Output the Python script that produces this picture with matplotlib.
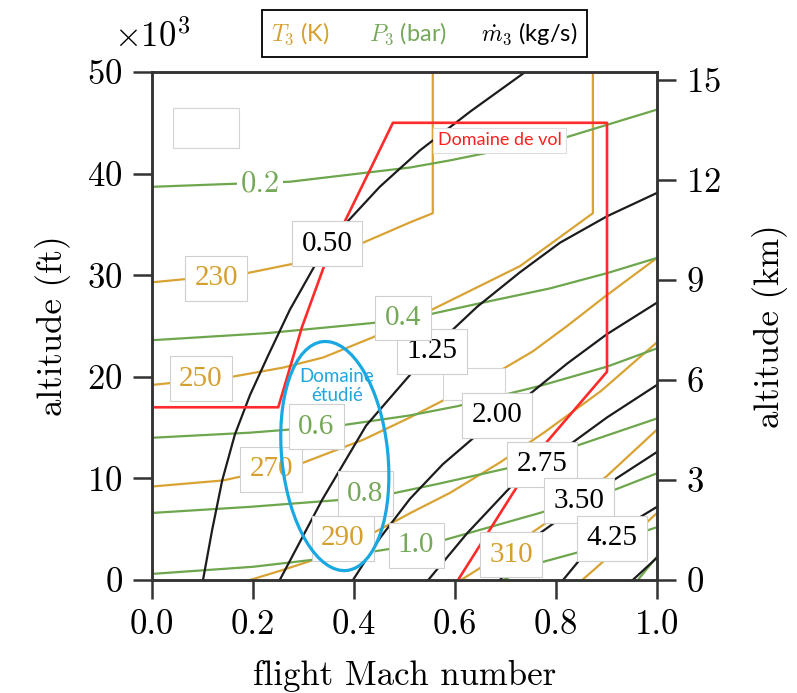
import matplotlib
matplotlib.use('Agg')
import matplotlib.pyplot as plt
from matplotlib.patches import Ellipse, Rectangle

plt.rcParams['font.family'] = 'serif'
plt.rcParams['font.serif'] = ['cmr10']
plt.rcParams['mathtext.fontset'] = 'cm'
plt.rcParams['axes.formatter.use_mathtext'] = True

ORANGE = '#d9a334'
GREEN = '#6da64c'
BLACK = '#1c1c1c'
RED = '#ff2b2b'
BLUE = '#1aa8e2'

# ---- mass flow m3 (kg/s) contour lines (Mach, kft)
mdot_levels = ['0.50', '1.25', '2.00', '2.75', '3.50', '4.25', '5.00']
mdot_mach = [
    [0.101, 0.119, 0.139, 0.164, 0.194, 0.230, 0.273, 0.323, 0.382, 0.451, 0.531, 0.630, 0.739],
    [0.253, 0.337, 0.424, 0.525, 0.584, 0.644, 0.729, 0.808, 0.901, 1.0],
    [0.398, 0.451, 0.511, 0.576, 0.644, 0.743, 0.822, 0.901, 1.0],
    [0.547, 0.624, 0.709, 0.832, 0.901, 1.0],
    [0.689, 0.768, 0.907, 1.0],
    [0.814, 0.867, 1.0],
    [0.952, 1.0],
]
mdot_alt = [
    [0, 4.9, 9.8, 14.3, 18.2, 22.1, 26.6, 31.0, 35.0, 38.7, 42.3, 46.1, 50.0],
    [0, 7.9, 15.2, 21.0, 24.1, 26.9, 30.3, 33.2, 35.8, 38.1],
    [0, 4.1, 8.0, 11.4, 14.3, 18.1, 21.3, 24.2, 27.3],
    [0, 4.6, 9.1, 13.5, 16.0, 19.2],
    [0, 4.6, 9.6, 12.6],
    [0, 3.2, 7.2],
    [0, 2.2],
]

# ---- pressure P3 (bar)
p3_levels = ['0.2', '0.4', '0.6', '0.8', '1.0', '1.2', '1.4']
p3_mach = [
    [0, 0.273, 0.511, 0.590, 0.709, 0.822, 0.901, 1.0],
    [0, 0.228, 0.438, 0.545, 0.655, 0.788, 0.901, 1.0],
    [0, 0.194, 0.372, 0.511, 0.604, 0.703, 0.768, 0.901, 1.0],
    [0, 0.194, 0.378, 0.465, 0.570, 0.713, 0.834, 1.0],
    [0, 0.2, 0.372, 0.438, 0.576, 0.768, 0.907, 1.0],
    [0.695, 0.768, 0.842, 0.982, 1.0],
    [0.962, 1.0],
]
p3_alt = [
    [38.7, 39.2, 40.6, 41.3, 42.5, 43.6, 44.8, 46.3],
    [23.6, 24.3, 25.3, 26.1, 27.3, 28.7, 30.2, 31.7],
    [14.0, 14.5, 15.2, 16.2, 17.1, 18.3, 19.1, 21.0, 22.8],
    [6.6, 7.2, 7.9, 8.4, 9.5, 11.1, 13.1, 15.9],
    [0.6, 1.3, 2.3, 2.8, 3.9, 6.6, 8.7, 10.5],
    [0, 1.7, 2.7, 4.9, 5.2],
    [0, 2.3],
]

# ---- temperature T3 (K)
t3_levels = ['230', '250', '270', '290', '310', '330']
t3_mach = [
    [0, 0.188, 0.287, 0.418, 0.511, 0.556, 0.556],
    [0, 0.158, 0.259, 0.339, 0.438, 0.554, 0.729, 0.873, 0.873],
    [0, 0.141, 0.297, 0.418, 0.511, 0.570, 0.689, 0.754, 0.822, 0.897, 1.0],
    [0.194, 0.26, 0.327, 0.433, 0.512, 0.591, 0.69, 0.776, 0.889, 1.0],
    [0.612, 0.663, 0.713, 0.80, 0.90, 1.0],
    [0.852, 0.9, 0.95, 1.0],
]
t3_alt = [
    [29.3, 30.2, 31.2, 33.2, 35.2, 36.1, 50],
    [19.2, 20.0, 20.9, 21.9, 23.9, 26.6, 30.9, 36.1, 50],
    [9.2, 9.8, 11.5, 13.8, 16.0, 17.5, 20.6, 22.5, 25.0, 27.9, 31.7],
    [0, 1.0, 2.1, 4.5, 6.6, 8.6, 11.6, 14.5, 18.6, 23.4],
    [0, 1.6, 3.3, 6.3, 10.2, 14.8],
    [0, 2.1, 4.3, 6.6],
]

# ---- flight envelope
vol_mach = [0, 0.250, 0.297, 0.343, 0.376, 0.432, 0.477, 0.901, 0.901, 0.782, 0.723, 0.606]
vol_alt = [17.0, 17.0, 24.9, 31.2, 34.7, 40.4, 45.0, 45.0, 20.5, 13.6, 9.2, 0]

# ---- inline labels (text, Mach, kft)
mdot_lab = [('0.50', 0.347, 33.1), ('1.25', 0.554, 22.5), ('2.00', 0.683, 16.2),
            ('2.75', 0.772, 11.4), ('3.50', 0.846, 7.8), ('4.25', 0.911, 4.1)]
t3_lab = [('230', 0.127, 29.7), ('250', 0.097, 19.8), ('270', 0.236, 10.9),
          ('290', 0.378, 4.1), ('310', 0.711, 2.5)]
p3_lab = [('0.4', 0.497, 25.8), ('0.6', 0.325, 15.1), ('0.8', 0.422, 8.5),
          ('1.0', 0.523, 3.4)]
# blank patches left over from the original labels (Mach0, Mach1, kft0, kft1)
blank_boxes = [(0.042, 0.173, 42.5, 46.5), (0.576, 0.699, 17.7, 20.9)]

fig = plt.figure(figsize=(7.97, 6.93), dpi=100)
ax = fig.add_axes([152/797, 113/693, 505/797, 508/693])

for m, a in zip(t3_mach, t3_alt):
    ax.plot(m, a, color=ORANGE, lw=1.6, zorder=2)
for m, a in zip(p3_mach, p3_alt):
    ax.plot(m, a, color=GREEN, lw=1.6, zorder=2)
for m, a in zip(mdot_mach, mdot_alt):
    ax.plot(m, a, color=BLACK, lw=1.6, zorder=3)

ax.plot(vol_mach, vol_alt, color=RED, lw=1.9, zorder=4)

box_kw = dict(boxstyle='square,pad=0.32', fc='white', ec='#cfcfcf', lw=0.8)
lab_font = 'Liberation Serif'
for txt, m, a in mdot_lab:
    ax.text(m, a, txt, color='black', fontsize=21, family=lab_font,
            ha='center', va='center', bbox=box_kw, zorder=6)
for txt, m, a in t3_lab:
    ax.text(m, a, txt, color='#d6a030', fontsize=21, family=lab_font,
            ha='center', va='center', bbox=box_kw, zorder=6)
for txt, m, a in p3_lab:
    ax.text(m, a, txt, color='#75a858', fontsize=21, family=lab_font,
            ha='center', va='center', bbox=box_kw, zorder=6)
# the original latex label left on the 0.2 isobar
ax.text(0.214, 39.0, '0.2', color='#75a858', fontsize=22, ha='center', va='center',
        bbox=dict(boxstyle='square,pad=0.1', fc='white', ec='none'), zorder=5)

for m0, m1, a0, a1 in blank_boxes:
    ax.add_patch(Rectangle((m0, a0), m1 - m0, a1 - a0, fc='white', ec='#d4d4d4',
                           lw=0.8, zorder=5))

ax.text(0.689, 43.3, 'Domaine de vol', color='#ff1f1f', fontsize=13, family='Lato',
        ha='center', va='center',
        bbox=dict(boxstyle='square,pad=0.25', fc='white', ec='#dedede', lw=0.8), zorder=6)

ax.add_patch(Ellipse((0.362, 0.244), 0.21, 0.453, angle=6, transform=ax.transAxes,
                     fill=False, ec=BLUE, lw=2.3, zorder=7))
ax.text(0.366, 19.1, 'Domaine\nétudié', color='#22a5dd', fontsize=13.5, family='Lato',
        ha='center', va='center', linespacing=1.2, zorder=7)

ax.set_xlim(0, 1)
ax.set_ylim(0, 50)
ax.set_xticks([0, 0.2, 0.4, 0.6, 0.8, 1.0])
ax.set_xticklabels(['0.0', '0.2', '0.4', '0.6', '0.8', '1.0'])
ax.set_yticks([0, 10, 20, 30, 40, 50])
ax.set_xlabel('flight Mach number', fontsize=25, labelpad=14)
ax.set_ylabel('altitude (ft)', fontsize=25, labelpad=12)
ax.text(0.0, 1.035, r'$\times10^3$', transform=ax.transAxes, fontsize=25,
        ha='center', va='bottom')

ax2 = ax.twinx()
ax2.set_ylim(0, 50 * 0.3048)
ax2.set_yticks([0, 3, 6, 9, 12, 15])
ax2.set_ylabel('altitude (km)', fontsize=25, labelpad=22)

for a in (ax, ax2):
    a.tick_params(direction='out', length=14, width=1.8, labelsize=25, pad=7,
                  color='#333333')
    for s in a.spines.values():
        s.set_color('#333333')
        s.set_linewidth(1.8)

# legend strip above the axes
fig.patches.append(Rectangle((262/797, 1 - 57/693), 325/797, 47/693,
                             transform=fig.transFigure, fill=False, ec='black', lw=1.3))
fig.text(300/797, 1 - 34/693, r'$T_3$ (K)', color='#d6a030', fontsize=17,
         family='Lato', ha='center', va='center')
fig.text(408/797, 1 - 34/693, r'$P_3$ (bar)', color='#75a858', fontsize=17,
         family='Lato', ha='center', va='center')
fig.text(529/797, 1 - 34/693, r'$\dot{m}_3$ (kg/s)', color='black', fontsize=17,
         family='Lato', ha='center', va='center')

fig.savefig('out.png', dpi=100)
